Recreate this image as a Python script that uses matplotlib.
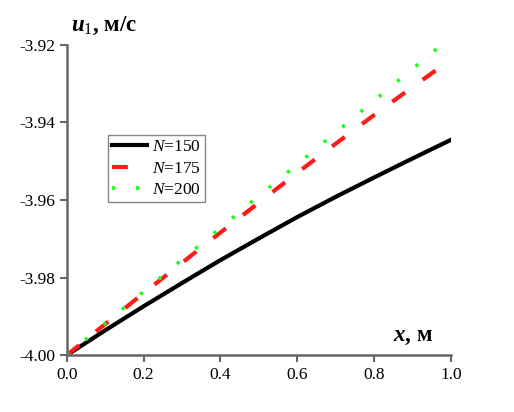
import matplotlib
matplotlib.use('Agg')
import matplotlib.pyplot as plt

plt.rcParams['font.family'] = ['Liberation Serif', 'DejaVu Serif']
plt.rcParams['mathtext.fontset'] = 'custom'
plt.rcParams['mathtext.it'] = 'Liberation Serif:italic'
plt.rcParams['mathtext.bf'] = 'Liberation Serif:italic:bold'
plt.rcParams['mathtext.rm'] = 'Liberation Serif'
plt.rcParams['axes.unicode_minus'] = False

# значення
x = [0.0, 0.1, 0.2, 0.3, 0.4, 0.5, 0.6, 0.7, 0.8, 0.9, 1.0]
u_150 = [-4.0, -3.9936, -3.9874, -3.9814, -3.9755, -3.9699, -3.9644, -3.9592, -3.9542, -3.9493, -3.9445]
u_175 = [-4.0, -3.9920, -3.9840, -3.9762, -3.9684, -3.9607, -3.9530, -3.9455, -3.9381, -3.9309, -3.9238]
u_200 = [-4.0, -3.9918, -3.9836, -3.9754, -3.9672, -3.9590, -3.9508, -3.9426, -3.9344, -3.9262, -3.9180]
labels = ['$\\it{N}$=150', '$\\it{N}$=175', '$\\it{N}$=200']

fig = plt.figure(figsize=(5.14, 4.12), dpi=100)
ax = fig.add_axes([0.130, 0.138, 0.747, 0.753])

ax.plot(x, u_150, color='black', lw=3, label=labels[0])
ax.plot(x, u_175, color='#ff1a1a', lw=3, dashes=(3.8, 5.2), label=labels[1])
ax.plot(x, u_200, color='#1aff1a', lw=2.6, dashes=(0.9, 5.7), label=labels[2])

ax.set_xlim(0, 1)
ax.set_ylim(-4.0, -3.92)
ax.set_xticks([0.0, 0.2, 0.4, 0.6, 0.8, 1.0])
ax.set_xticklabels(['0.0', '0.2', '0.4', '0.6', '0.8', '1.0'])
ax.set_yticks([-4.0, -3.98, -3.96, -3.94, -3.92])
ax.set_yticklabels(['-4.00', '-3.98', '-3.96', '-3.94', '-3.92'])

for s in ['top', 'right']:
    ax.spines[s].set_visible(False)
for s in ['left', 'bottom']:
    ax.spines[s].set_color('#666666')
    ax.spines[s].set_linewidth(1.8)
ax.tick_params(direction='out', length=5, width=1.5, color='#666666', labelsize=12.5)

ax.text(0.01, 1.025, '$\\mathbf{u}_1$, м/с', transform=ax.transAxes, fontsize=16.5,
        fontweight='bold', ha='left', va='bottom')
ax.text(0.85, 0.025, '$\\mathbf{x}$, м', transform=ax.transAxes, fontsize=16.5,
        fontweight='bold', ha='left', va='bottom')

leg = ax.legend(loc='upper left', bbox_to_anchor=(0.107, 0.71), fontsize=12.5,
                fancybox=False, edgecolor='#888888', framealpha=1, borderaxespad=0,
                handlelength=2.0, borderpad=0.25, labelspacing=0.3, handletextpad=0.3)
leg.get_frame().set_linewidth(1.0)

plt.savefig('out.png', dpi=100)
